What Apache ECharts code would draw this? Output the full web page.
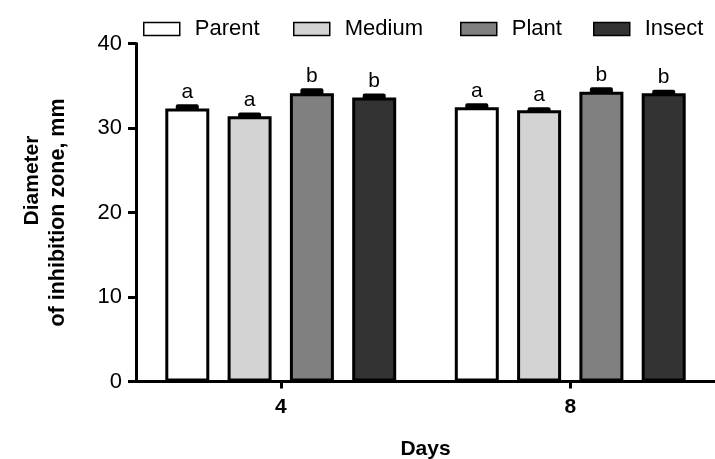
<!DOCTYPE html>
<html>
<head>
<meta charset="utf-8">
<script src="https://cdn.jsdelivr.net/npm/echarts@6/dist/echarts.min.js"></script>
<style>html,body{margin:0;padding:0;background:#fff}#c{width:715px;height:459px}</style>
</head>
<body>
<div id="c"></div>
<script>
// ---- data ----
const categories = ['4', '8'];
const seriesNames = ['Parent', 'Medium', 'Plant', 'Insect'];
const parentMean = [32.3, 32.45];
const parentErr = [0.27, 0.24];
const mediumMean = [31.4, 32.1];
const mediumErr = [0.2, 0.12];
const plantMean = [34.1, 34.3];
const plantErr = [0.36, 0.28];
const insectMean = [33.6, 34.1];
const insectErr = [0.25, 0.2];
const parentLetters = ['a', 'a'];
const mediumLetters = ['a', 'a'];
const plantLetters = ['b', 'b'];
const insectLetters = ['b', 'b'];
const yTicks = [0, 10, 20, 30, 40];

// ---- chart ----
const FONT = '"Liberation Sans", Arial, Helvetica, sans-serif';
const means = [parentMean, mediumMean, plantMean, insectMean];
const errs = [parentErr, mediumErr, plantErr, insectErr];
const letters = [parentLetters, mediumLetters, plantLetters, insectLetters];
const fills = ['#ffffff', '#d3d3d3', '#808080', '#333333'];
const BAR_W = 44, BAR_GAP = 0.416;
const legendLeft = [143, 293, 460, 593];

const chart = echarts.init(document.getElementById('c'), null, {renderer: 'canvas'});

const barSeries = seriesNames.map((n, i) => ({
  name: n,
  type: 'bar',
  data: means[i],
  barWidth: BAR_W,
  barGap: (BAR_GAP * 100) + '%',
  itemStyle: {color: fills[i], borderColor: '#000', borderWidth: 3},
  emphasis: {disabled: true},
  z: 2
}));

const errSeries = seriesNames.map((n, i) => ({
  type: 'custom',
  name: n + ' err',
  z: 5,
  data: categories.map((c, k) => [k, means[i][k], errs[i][k], letters[i][k]]),
  renderItem: function (params, api) {
    const base = api.coord([api.value(0), api.value(1)]);
    const top = api.coord([api.value(0), api.value(1) + api.value(2)]);
    const step = BAR_W * (1 + BAR_GAP);
    const x = base[0] + (i - 1.5) * step;
    return {
      type: 'group',
      children: [
        {type: 'rect', shape: {x: x - 11.5, y: top[1] - 2, width: 23, height: base[1] - top[1] + 4, r: 2},
         style: {fill: '#000'}},
        {type: 'text', style: {text: api.value(3), x: x, y: top[1] - 4, align: 'center', verticalAlign: 'bottom',
          fontSize: 21, fontFamily: FONT, fill: '#000'}}
      ]
    };
  }
}));

const option = {
  backgroundColor: '#fff',
  animation: false,
  grid: {left: 136, right: 0, top: 43.5, bottom: 77.5, containLabel: false, outerBoundsMode: 'none'},
  legend: seriesNames.map((n, i) => ({
    data: [n], left: legendLeft[i], top: 18, padding: 0,
    itemWidth: 36, itemHeight: 13, selectedMode: false,
    icon: 'rect',
    itemStyle: {borderWidth: 1.5, borderColor: '#000'},
    textStyle: {fontSize: 22, fontFamily: FONT, color: '#000', padding: [0, 0, 0, 10]}
  })),
  xAxis: {
    type: 'category',
    data: categories,
    name: 'Days',
    nameLocation: 'middle',
    nameGap: 57,
    nameTextStyle: {fontSize: 21, fontWeight: 'bold', fontFamily: FONT, color: '#000'},
    axisLine: {lineStyle: {color: '#000', width: 3}},
    axisTick: {show: true, alignWithLabel: true, length: 7, lineStyle: {color: '#000', width: 3}},
    axisLabel: {fontSize: 21, fontWeight: 'bold', fontFamily: FONT, color: '#000', margin: 15},
    splitLine: {show: false}
  },
  yAxis: {
    type: 'value',
    min: yTicks[0],
    max: yTicks[yTicks.length - 1],
    interval: yTicks[1] - yTicks[0],
    name: '{a|Diameter}\n{b|of inhibition zone, mm}',
    nameLocation: 'middle',
    nameRotate: 90,
    nameGap: 65,
    nameTextStyle: {
      fontSize: 21, fontWeight: 'bold', fontFamily: FONT, color: '#000', lineHeight: 26,
      rich: {
        a: {fontSize: 21, fontWeight: 'bold', fontFamily: FONT, color: '#000', lineHeight: 26, padding: [0, 0, 0, 64]},
        b: {fontSize: 21.5, fontWeight: 'bold', fontFamily: FONT, color: '#000', lineHeight: 26}
      }
    },
    axisLine: {show: true, lineStyle: {color: '#000', width: 3}},
    axisTick: {show: true, length: 8, lineStyle: {color: '#000', width: 3}},
    axisLabel: {fontSize: 22, fontFamily: FONT, color: '#000', margin: 14},
    splitLine: {show: false}
  },
  series: barSeries.concat(errSeries)
};
chart.setOption(option);
</script>
</body>
</html>
